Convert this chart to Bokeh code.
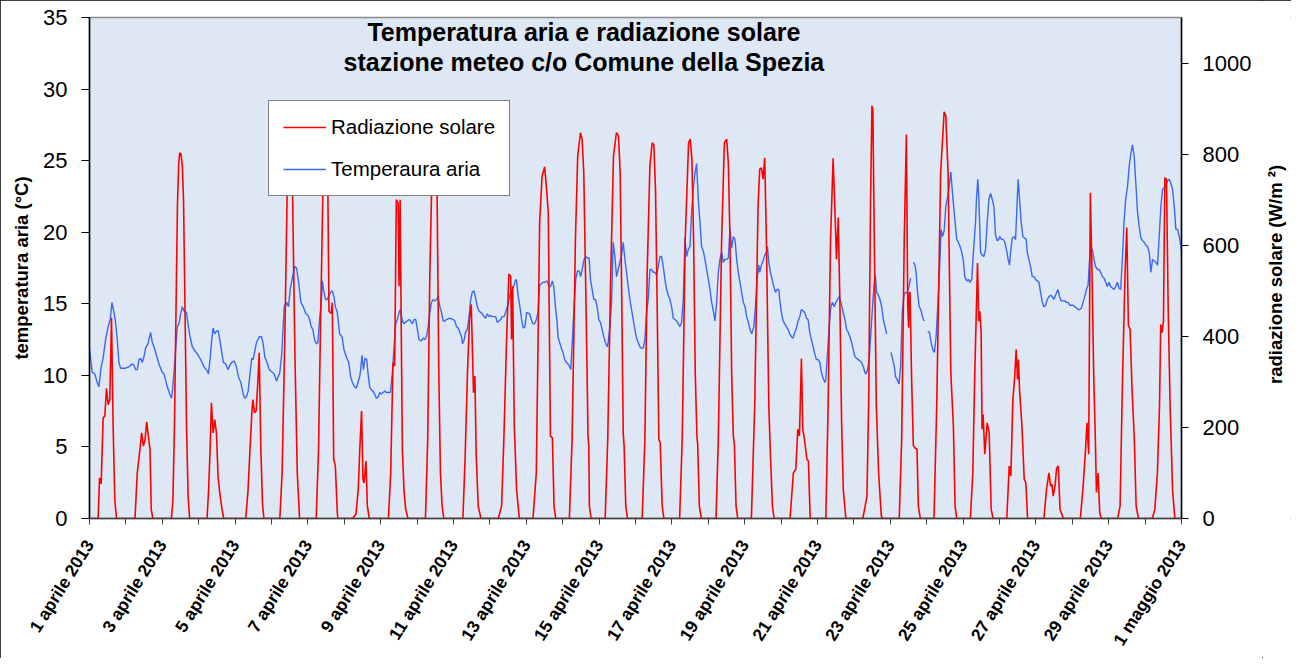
import math
from bokeh.plotting import figure
from bokeh.layouts import row
from bokeh.models import Range1d, LinearAxis, FixedTicker, Legend, LegendItem, Label
from bokeh.embed import file_html
from bokeh.resources import INLINE

NaN = float("nan")

# ---- data: hours since 1 April 2013 00:00 ----
temp_hours = [
    0.0, 1.8, 3.5, 5.1, 6.2, 7.7, 9.0, 10.6, 12.3, 13.7, 14.8, 16.1, 17.2, 18.3, 19.4, 20.5, 21.6, 23.8,
    26.0, 28.2, 29.3, 30.4, 31.5, 32.6, 33.7, 34.8, 35.9, 37.0, 38.5, 40.3, 41.4, 42.5, 43.6, 45.8,
    48.0, 49.1, 51.3, 52.9, 54.0, 54.6, 55.7, 56.8, 57.9, 59.0, 60.1, 61.2, 62.3, 63.9, 65.2, 66.3,
    67.8, 69.6, 71.1, 72.2, 73.3, 75.5, 77.7, 78.4, 79.5, 80.6, 81.5, 82.6, 83.7, 84.8, 85.9, 87.2,
    88.3, 89.8, 91.4, 92.5, 93.8, 95.4, 96.9, 98.2, 99.8, 101.3, 102.4, 103.5, 104.6, 105.9, 107.0,
    107.9, 109.0, 110.1, 111.9, 113.4, 114.5, 115.6, 117.4, 118.5, 119.6, 121.8, 123.3, 124.4, 125.5,
    126.8, 128.4, 129.9, 131.2, 132.3, 133.9, 135.4, 136.5, 137.9, 139.4, 140.9, 142.7, 144.0, 145.1,
    146.2, 147.3, 148.4, 149.5, 150.6, 151.7, 152.8, 153.5, 154.4, 155.7, 156.8, 157.9, 159.0, 160.1,
    161.2, 162.1, 163.4, 164.9, 166.5, 167.8, 169.3, 170.9, 172.2, 173.3, 174.8, 175.9, 177.0, 178.1,
    178.8, 179.7, 180.6, 181.7, 182.8, 183.6, 184.7, 185.8, 186.9, 188.0, 189.1, 190.3, 191.4, 192.4,
    193.6, 194.7, 195.8, 196.9, 198.4, 199.7, 200.8, 201.9, 203.0, 204.1, 205.0, 206.1, 207.2, 208.3,
    209.4, 210.7, 211.6, 212.9, 214.0, 215.1, 216.2, 217.3, 218.9, 220.0, 221.1, 222.2, 223.3, 224.4,
    225.5, 226.6, 227.7, 228.8, 229.9, 231.0, 232.1, 233.2, 234.3, 235.4, 237.6, 239.8, 240.9, 242.0,
    243.1, 244.2, 245.3, 246.0, 247.1, 247.9, 249.0, 250.1, 251.2, 252.3, 253.5, 254.6, 255.7, 256.8,
    257.9, 259.0, 260.1, 261.2, 262.3, 263.4, 264.5, 265.6, 266.7, 267.8, 268.9, 270.0, 271.1, 272.2,
    273.3, 274.4, 275.5, 276.6, 277.7, 278.8, 279.9, 281.0, 281.6, 282.7, 283.8, 284.9, 286.0, 287.1,
    288.2, 290.2, 291.3, 292.4, 293.5, 294.6, 295.7, 296.8, 297.9, 299.0, 300.1, 301.7, 303.0, 303.9,
    305.2, 306.1, 307.2, 308.3, 308.9, 310.0, 311.1, 312.2, 313.3, 314.4, 315.5, 316.6, 317.3, 318.4,
    319.5, 320.6, 321.7, 322.8, 323.9, 325.0, 326.1, 327.2, 328.3, 329.4, 330.3, 331.4, 332.5, 333.6,
    334.7, 335.8, 336.9, 338.0, 339.1, 340.2, 341.3, 342.0, 343.1, 344.2, 345.3, 346.4, 347.5, 348.6,
    349.7, 350.8, 351.9, 353.0, 354.1, 355.2, 356.3, 357.4, 358.5, 359.6, 360.7, 361.8, 362.9, 364.0,
    365.1, 366.2, 367.3, 368.4, 369.5, 370.6, 371.7, 372.8, 373.9, 375.0, 376.1, 377.2, 378.3, 379.4,
    380.5, 381.6, 382.7, 383.8, 384.9, 386.0, 387.1, 388.2, 389.3, 390.4, 391.5, 392.6, 393.7, 394.8,
    395.9, 397.0, 398.1, 399.2, 400.3, 401.4, 402.5, 403.6, 404.7, 405.8, 406.9, 408.0, 409.1, 410.2,
    411.3, 412.4, 413.5, 414.6, 415.7, 416.8, 417.9, 419.0, 420.1, 421.2, 422.3, 423.4, 424.5, 425.6,
    426.7, 427.8, 428.9, 430.0, 431.1, 432.2, 433.3, 434.4, 435.5, 436.6, 438.0, 439.1, 440.2, 441.3,
    441.9, 443.0, 444.1, 445.2, 446.3, 447.0, 447.9, 449.0, 450.1, 451.2, 452.3, 453.4, 454.5, 455.1,
    456.2, 457.3, 458.4, 459.5, 460.6, 461.7, 462.8, 463.9, 465.0, 466.1, 467.2, 468.3, 469.4, 470.5,
    471.6, 472.7, 473.8, 474.9, 476.0, 477.1, 478.2, 479.3, 480.4, 481.5, 482.6, 483.7, 484.9, 485.5,
    486.6, 487.7, 488.8, 489.9, 491.0, 492.1, 493.2, 494.3, 495.4, 496.5, 498.1, 499.2, 500.3, 501.4,
    502.5, 503.6, 504.7, 505.8, 506.9, 508.0, 509.1, 510.2, 511.3, 511.9, 513.0, 514.1, 515.2, 516.3,
    517.2, 518.1, 519.0, 520.1, 521.2, 522.3, 523.4, 524.5, 525.6, 527.0, 528.5, 529.6, 530.7, 531.5,
    532.6, 533.7, 534.8, 535.9, 537.0, 538.1, 539.2, 540.3, 541.4, 542.3, 543.2, 544.3, 545.0, 545.8,
    547.0, 548.1, 549.2, 550.3, 551.5, 552.7, 553.8, 554.9, 556.0, 557.1, 558.2, 559.3, 560.4, 561.5,
    562.4, 563.5, 564.6, 565.7, 566.8, 567.9, 568.5, 569.6, 570.7, 571.8, 572.9, 574.0, 575.1, 576.2,
    577.1, 578.4, 579.5, 580.6, 581.7, 582.8, 584.2, 584.8, 585.7, 586.4, 587.5, 588.6, 589.7, 590.8,
    591.9, 593.0, 594.1, 595.2, 596.3, 597.4, 598.5, 599.6, 600.2, 601.3, 602.4, 603.5, 604.6, 605.7,
    606.6, 607.3, 608.4, 609.5, 610.6, 611.7, 612.3, 613.2, 614.3, 615.4, 616.5, 617.6, 618.3, 619.4,
    620.5, 621.6, 622.7, 623.8, 624.9, 626.0, 627.1, 628.2, 629.3, 630.4, 631.5, 632.6, 633.7, 634.8,
    635.9, 637.0, 638.5, 639.6, 640.7, 641.8, 642.9, 644.1, 645.2, 646.3, 647.4, 648.5, 649.6, 650.7,
    651.8, 652.9, 654.0, 655.1, 656.2, 657.3, 658.4, 659.5, 660.1, 661.2, 662.3, 663.4, 664.5, 665.6,
    666.7, 667.8, 668.9, 670.0, 671.1, 672.2, 673.3, 674.4, 675.5, 676.6, 677.7, 678.8, 679.9, 681.0,
    682.1, 683.2, 684.4, 685.5, 686.6, 687.7, 688.8, 689.9, 691.0, 692.1, 693.2, 694.3, 695.4, 696.5,
    697.6, 698.7, 699.8, 700.9, 702.0, 703.1, 704.2, 705.3, 706.4, 707.5, 708.6, 709.7, 710.8, 711.9,
    713.0, 714.1, 715.2, 716.3, 717.4, 718.5, 719.6, 720.0,
]
temp_c = [
    11.9, 10.2, 10.1, 9.5, 9.2, 10.6, 11.2, 12.5, 13.4, 13.9, 15.1, 14.4, 13.7, 12.5, 10.9, 10.5, 10.5, 10.5,
    10.6, 10.8, 10.7, 10.4, 10.4, 11.1, 11.2, 10.9, 11.3, 11.9, 12.2, 13.0, 12.3, 12.0, 11.6, 10.8,
    10.2, 10.1, 9.2, 8.7, 8.4, 8.8, 10.2, 11.8, 13.4, 13.6, 14.3, 14.8, 14.5, 14.4, 13.4, 12.7,
    12.0, 11.7, 11.5, 11.3, 11.1, 10.6, 10.3, 10.1, 11.1, 12.5, 13.3, 12.9, 13.1, 13.1, 12.5, 11.6,
    10.9, 10.8, 10.4, 10.7, 10.9, 11.0, 10.6, 9.9, 9.5, 8.7, 8.4, 8.5, 8.9, 10.2, 11.2,
    11.1, 11.7, 12.3, 12.7, 12.7, 12.2, 11.3, 10.8, 10.4, 10.3, 10.1, 9.6, 9.9, 10.2,
    11.6, 14.8, 15.1, 14.8, 16.0, 16.9, 17.6, 17.5, 16.5, 15.1, 14.8, 14.3, 14.2, 13.9,
    13.4, 13.2, 12.5, 12.2, 12.3, 13.9, 15.1, 16.6, 15.9, 15.3, 15.3, 15.6, 15.8, 15.9,
    15.5, 14.8, 14.4, 12.9, 12.7, 11.8, 11.3, 10.9, 9.9, 9.5, 9.2, 9.1, 9.5, 9.9,
    10.4, 11.4, 10.4, 11.2, 11.1, 10.2, 9.2, 9.0, 8.9, 8.7, 8.4, 8.5, 8.8, 8.7,
    8.8, 8.9, 8.8, 8.8, 8.8, 10.2, 12.0, 13.6, 13.9, 14.4, 14.6, 13.9, 13.6, 13.7,
    13.8, 13.9, 13.8, 13.6, 13.9, 13.9, 13.2, 12.5, 12.4, 12.6, 12.5, 12.7, 13.4, 14.4,
    15.1, 15.3, 15.2, 15.3, 15.5, 14.8, 14.4, 13.8, 13.8, 13.9, 14.0, 13.9, 13.8, 13.4,
    13.3, 13.0, 12.7, 12.2, 12.5, 13.0, 13.2, 13.9, 15.2, 15.8, 15.9, 15.4, 14.8, 14.5,
    14.4, 14.3, 14.1, 14.0, 14.3, 14.1, 14.2, 14.1, 14.1, 14.1, 13.7, 13.8, 13.9, 14.1,
    14.1, 14.4, 14.8, 15.3, 15.8, 16.0, 16.3, 16.7, 16.6, 15.5, 14.8, 13.9, 13.3, 13.4,
    14.4, 14.3, 13.9, 13.6, 13.6, 13.9, 14.4, 16.3, 16.4, 16.5, 16.5, 16.6, 16.2, 16.2,
    16.6, 16.2, 14.8, 13.7, 12.7, 12.3, 11.9, 11.6, 11.1, 10.9, 10.8, 10.6, 10.4, 12.5,
    14.8, 16.7, 17.3, 17.3, 16.9, 17.5, 18.1, 18.3, 18.2, 18.2, 16.7, 16.0, 15.3, 15.3,
    14.8, 13.9, 13.7, 13.2, 12.7, 12.3, 12.0, 12.3, 13.4, 15.1, 19.3, 18.3, 16.9, 17.4,
    17.9, 18.4, 19.3, 18.1, 17.2, 16.2, 15.3, 14.6, 13.9, 13.2, 12.6, 12.3, 12.0, 11.9,
    11.9, 12.5, 14.4, 15.3, 17.4, 17.4, 17.2, 17.2, 17.0, 17.6, 18.3, 18.3, 17.6, 16.7,
    16.0, 15.6, 15.3, 14.8, 14.0, 13.9, 13.8, 13.6, 13.4, 13.7, 15.3, 19.6, 18.3, 18.8,
    19.0, 21.4, 23.0, 24.1, 24.8, 22.3, 20.7, 19.0, 18.7, 18.1, 17.4, 16.7, 16.0, 15.1,
    14.5, 13.8, 15.1, 17.2, 18.1, 18.6, 17.9, 18.1, 18.1, 18.2, 20.3, 18.9, 19.7, 19.5,
    18.1, 17.2, 16.5, 15.8, 15.1, 14.8, 14.1, 13.7, 13.2, 12.9, 13.4, 14.8, 16.7, 17.7,
    17.2, 17.7, 18.0, 18.4, 18.6, 19.0, 17.9, 17.2, 16.7, 16.2, 15.8, 16.0, 16.0, 15.3,
    14.4, 13.8, 13.6, 13.4, 13.2, 12.9, 12.7, 12.6, 13.0, 13.3, 13.8, 14.1, 14.6, 14.5,
    14.4, 14.0, 13.9, 13.0, 12.5, 12.0, 11.5, 11.1, 11.1, 10.9, 10.2, 9.8, 9.5, 9.7,
    11.6, 13.4, 14.8, 15.1, 14.8, 15.1, 15.3, 15.5, 15.1, 14.6, 13.9, 13.2, 13.0, 12.7,
    12.3, 11.8, 11.3, 11.2, 11.1, 11.0, 10.9, 10.6, 10.2, 10.1, 10.4, 11.1, 13.0, 14.8,
    16.2, 17.0, 15.8, 15.6, 15.3, 14.8, 13.9, 13.4, 12.9, NaN, 11.6, 11.1, 10.6, 9.9,
    9.7, 9.4, 10.6, 14.4, 15.6, 15.8, 15.8, 16.2, 16.8, NaN, 17.9, 17.7, 17.2, 16.0,
    14.8, 14.6, 14.1, 13.8, NaN, 13.1, 13.0, 12.3, 11.8, 11.6, 12.7, 14.8, 17.2, 20.2,
    19.7, 20.1, 21.8, 22.4, 23.2, 24.2, 23.4, 22.0, 20.7, 19.5, 19.3, 19.0, 18.6, 18.0,
    16.9, 16.6, 16.7, 16.5, 16.7, 18.6, 20.7, 22.3, 23.7, 22.3, 18.6, 18.4, 18.3, 18.8,
    20.7, 22.3, 22.7, 22.3, 21.8, 19.8, 19.4, 19.5, 19.7, 19.5, 19.5, 19.3, 18.8, 18.1,
    17.7, 18.6, 19.6, 19.7, 19.5, 22.3, 23.7, 22.3, 20.7, 19.7, 19.6, 19.5, 18.6, 18.1,
    17.6, 16.9, 16.9, 16.7, 16.6, 16.5, 15.8, 15.1, 14.8, 14.9, 15.3, 15.5, 15.6, 15.5,
    15.3, 15.6, 16.0, 15.5, 15.2, 15.2, 15.2, 15.1, 15.1, 14.9, 14.9, 14.9, 14.8, 14.7,
    14.6, 14.6, 14.7, 15.1, 15.5, 16.0, 16.3, 18.3, 18.8, 18.8, 18.1, 17.6, 17.4, 17.4,
    17.2, 16.9, 16.8, 16.5, 16.2, 16.5, 16.2, 16.1, 16.0, 16.2, 16.5, 16.1, 16.0, 18.1,
    20.7, 22.3, 23.2, 24.6, 25.5, 26.1, 25.3, 23.4, 21.4, 20.4, 19.6, 19.4, 19.3, 19.1,
    19.0, 18.6, 17.2, 18.1, 18.0, 17.9, 17.7, 19.7, 21.8, 23.0, 23.1, 23.3, 23.6, 23.7,
    23.4, 23.0, 21.8, 20.2, 20.2, 19.7, 19.0, 18.7,
]

rad_hours = [
    0.0,
    5.7, 6.6, 7.7, 9.0, 10.1, 11.2, 12.3, 13.4, 14.5, 15.6, 16.7, 17.8,
    30.0, 31.5, 33.0, 34.4, 35.5, 36.6, 37.7, 38.8, 39.9, 40.7, 41.8,
    54.0, 55.0, 56.0, 57.0, 58.0, 58.8, 59.5, 60.3, 61.2, 62.0, 63.0, 64.0, 65.0, 66.0,
    77.5, 78.5, 79.5, 80.4, 81.5, 82.6, 83.7, 84.8, 86.1, 87.4, 88.5,
    103.0, 104.5, 105.8, 107.0, 107.7, 108.8, 109.9, 111.0, 111.9, 113.0, 114.1, 115.0,
    125.5, 127.0, 128.8, 130.3, 131.5, 132.6, 133.9, 135.5, 137.0, 138.5,
    149.5, 151.0, 152.1, 153.9, 155.0, 156.0, 157.2, 157.9, 159.4, 160.1, 161.0, 162.1, 163.4, 163.8,
    173.5, 175.7, 177.2, 178.3, 179.4, 180.3, 181.0, 182.3, 183.2, 184.5,
    197.1, 198.6, 200.1, 201.2, 202.3, 203.5, 204.1, 204.8, 205.6, 206.3, 207.4, 208.5, 210.0,
    221.5, 223.0, 224.4, 225.5, 226.8, 228.0, 229.2, 230.3, 231.4, 232.5, 233.6,
    246.2, 247.7, 249.2, 250.6, 251.7, 253.2, 254.1, 255.0, 256.3, 258.1,
    269.5, 271.7, 273.2, 275.0, 276.5, 277.7, 278.3, 279.0, 280.1, 281.6, 283.4,
    292.4, 294.6, 296.8, 298.4, 300.1, 301.2, 302.5, 303.9, 305.2, 306.3, 307.4,
    316.4, 318.2, 320.4, 321.9, 323.7, 324.8, 325.9, 327.4, 328.7, 329.2, 329.6, 330.7,
    340.0, 341.7, 343.7, 345.5, 347.4, 348.8, 349.9, 351.0, 351.9, 352.5, 353.6, 354.7,
    364.4, 366.2, 367.7, 369.5, 371.0, 372.1, 373.2, 374.3, 375.4, 376.3, 377.6, 378.7,
    389.1, 390.8, 392.8, 395.0, 396.1, 397.2, 398.3, 399.4, 400.5, 401.0, 402.1, 403.4,
    413.1, 414.6, 416.8, 418.6, 420.1, 421.2, 422.3, 423.4, 424.5, 425.2, 426.3, 427.4,
    436.4, 438.6, 440.8, 441.9, 443.0, 444.1, 445.2, 446.3, 447.9, 449.0, 450.3, 451.4,
    461.9, 464.1, 465.7, 467.0, 468.1, 469.4, 470.3, 471.4, 473.0, 474.0, 475.2,
    485.5, 487.0, 488.6, 490.3, 491.4, 492.5, 493.7, 494.8, 495.9, 497.0, 498.7,
    509.9, 512.6, 513.7, 515.0, 515.9, 516.5, 517.7, 518.8, 520.3, 522.1, 523.2,
    533.9, 535.5, 537.2, 538.6, 539.5, 540.1, 540.6, 541.0, 542.1, 543.2, 544.3, 545.6, 546.5, 547.8,
    556.8, 558.6, 561.2, 563.5, 564.6, 566.1, 567.9, 569.6, 570.7, 571.8,
    580.8, 582.4, 583.7, 584.8, 585.5, 586.3, 587.0, 587.9, 588.5, 589.2, 590.3, 591.9, 593.2, 594.5, 595.8,
    604.8, 606.4, 607.5, 608.8, 609.9, 611.0, 611.9, 612.5, 613.2, 614.8, 616.3, 617.4, 618.5,
    629.3, 631.0, 632.6, 633.7, 634.6, 635.4, 636.6, 637.7, 638.8, 639.9, 642.1,
    653.3, 655.0, 656.6, 657.7, 658.8, 659.9, 661.0, 662.1, 663.2, 663.9, 665.0, 666.1, 667.2,
    677.9, 679.5, 681.2, 682.8, 683.9, 685.0, 686.1, 687.4, 688.9, 690.1, 691.6,
    700.8, 702.4, 704.1, 705.5, 706.3, 707.2, 708.1, 709.0, 710.1, 711.2, 712.5, 714.1, 715.6,
    720.0,
]
rad_wm2 = [
    0,
    0, 89, 76, 221, 225, 286, 250, 261, 441, 200, 40, 0,
    0, 100, 144, 188, 159, 173, 212, 181, 152, 20, 0,
    0, 40, 200, 450, 690, 780, 803, 800, 775, 700, 450, 200, 50, 0,
    0, 60, 150, 254, 188, 217, 188, 90, 50, 20, 0,
    0, 60, 150, 230, 261, 232, 236, 300, 364, 150, 30, 0,
    0, 100, 400, 710, 800, 790, 710, 350, 100, 0,
    0, 150, 379, 720, 800, 790, 707, 455, 450, 474, 130, 115, 12, 0,
    0, 10, 64, 159, 236, 86, 78, 126, 27, 0,
    0, 100, 342, 335, 700, 693, 510, 700, 400, 150, 60, 20, 0,
    0, 174, 540, 710, 790, 800, 710, 320, 100, 27, 0,
    0, 137, 320, 440, 470, 276, 313, 137, 27, 0,
    0, 27, 174, 393, 537, 532, 393, 510, 203, 64, 0,
    0, 100, 650, 752, 772, 730, 671, 181, 177, 27, 0,
    0, 174, 613, 796, 847, 833, 759, 466, 181, 159, 27, 0,
    0, 174, 540, 796, 847, 840, 759, 466, 188, 159, 27, 0,
    0, 174, 540, 774, 825, 820, 723, 466, 174, 166, 27, 0,
    0, 174, 613, 825, 833, 789, 613, 320, 181, 163, 27, 0,
    0, 174, 613, 825, 833, 782, 613, 320, 181, 163, 27, 0,
    0, 247, 686, 767, 770, 745, 792, 613, 247, 137, 27, 0,
    0, 100, 108, 196, 181, 351, 196, 174, 130, 126, 0,
    0, 247, 613, 791, 686, 569, 661, 466, 210, 64, 0,
    0, 49, 247, 700, 906, 899, 540, 247, 100, 5, 0,
    0, 174, 613, 843, 466, 419, 496, 496, 300, 160, 155, 152, 27, 0,
    0, 247, 759, 893, 884, 759, 320, 203, 27, 0,
    0, 100, 320, 466, 561, 433, 455, 408, 196, 228, 141, 210, 188, 20, 0,
    0, 115, 93, 261, 305, 371, 305, 349, 283, 203, 86, 78, 0,
    0, 64, 100, 71, 75, 49, 71, 111, 115, 20, 0,
    0, 64, 144, 210, 141, 715, 540, 320, 174, 57, 100, 12, 0,
    0, 27, 320, 540, 639, 423, 416, 283, 174, 27, 0,
    0, 20, 100, 247, 426, 408, 433, 748, 745, 466, 247, 64, 0,
    0,
]

day_ticks = list(range(0, 721, 24))
day_tick_labels = [
    "1 aprile 2013", "", "3 aprile 2013", "", "5 aprile 2013", "", "7 aprile 2013", "",
    "9 aprile 2013", "", "11 aprile 2013", "", "13 aprile 2013", "", "15 aprile 2013", "",
    "17 aprile 2013", "", "19 aprile 2013", "", "21 aprile 2013", "", "23 aprile 2013", "",
    "25 aprile 2013", "", "27 aprile 2013", "", "29 aprile 2013", "", "1 maggio 2013",
]
temp_ticks = [0, 5, 10, 15, 20, 25, 30, 35]
rad_ticks = [0, 200, 400, 600, 800, 1000]

FONT = "Liberation Sans"
H = 658
TOP, BOTTOM = 17, 140

p = figure(
    width=1262, height=H,
    x_range=Range1d(0, 720), y_range=Range1d(0, 35),
    output_backend="svg", toolbar_location=None,
    min_border_left=89, min_border_right=81, min_border_top=TOP, min_border_bottom=BOTTOM,
)
p.extra_y_ranges = {"rad": Range1d(0, 1100)}
p.background_fill_color = "#dde8f4"
p.border_fill_color = "white"
p.outline_line_color = "#8a8a8a"
p.outline_line_width = 1.5
p.xgrid.visible = False
p.ygrid.visible = False

# x axis
xa = p.xaxis[0]
xa.ticker = FixedTicker(ticks=day_ticks)
xa.major_label_overrides = {t: lab for t, lab in zip(day_ticks, day_tick_labels)}
xa.major_label_orientation = math.radians(58)
xa.major_label_text_font = FONT
xa.major_label_text_font_style = "bold"
xa.major_label_text_font_size = "17.5px"
xa.major_label_text_color = "black"
xa.major_label_standoff = 17
xa.major_tick_out = 6
xa.major_tick_in = 0
xa.minor_tick_out = 0
xa.minor_tick_in = 0
xa.axis_line_color = "#404040"
xa.axis_line_width = 1.5
xa.major_tick_line_color = "#404040"

# left axis
ya = p.yaxis[0]
ya.ticker = FixedTicker(ticks=temp_ticks)
ya.axis_label = "temperatura aria (°C)"
ya.axis_label_text_font = FONT
ya.axis_label_text_font_style = "bold"
ya.axis_label_text_font_size = "18.5px"
ya.axis_label_text_color = "black"
ya.axis_label_standoff = 8
ya.major_label_text_font = FONT
ya.major_label_text_font_size = "22px"
ya.major_label_text_color = "black"
ya.major_label_standoff = 14
ya.major_tick_out = 8
ya.major_tick_in = 0
ya.minor_tick_out = 0
ya.minor_tick_in = 0
ya.axis_line_color = "black"
ya.axis_line_width = 1.5
ya.major_tick_line_color = "black"

# right axis (its title is drawn in a narrow strip so it can read bottom-to-top)
ra = LinearAxis(y_range_name="rad", ticker=FixedTicker(ticks=rad_ticks))
ra.major_label_text_font = FONT
ra.major_label_text_font_size = "22px"
ra.major_label_text_color = "black"
ra.major_label_standoff = 14
ra.major_tick_out = 7
ra.major_tick_in = 0
ra.minor_tick_out = 0
ra.minor_tick_in = 0
ra.axis_line_color = "black"
ra.axis_line_width = 1.5
ra.major_tick_line_color = "black"
p.add_layout(ra, "right")

r_temp = p.line(temp_hours, temp_c, line_color="#3a68f2", line_width=1.4)
r_rad = p.line(rad_hours, rad_wm2, y_range_name="rad", line_color="#ff0000", line_width=1.6)

legend = Legend(
    items=[LegendItem(label="Radiazione solare", renderers=[r_rad]),
           LegendItem(label="Temperaura aria", renderers=[r_temp])],
    location=(179, 322),
    margin=0, padding=14, spacing=18,
    glyph_width=43, glyph_height=20, label_height=20, label_standoff=5,
    label_text_font=FONT, label_text_font_size="20.5px", label_text_color="black",
    background_fill_color="white", background_fill_alpha=1.0,
    border_line_color="black", border_line_width=1.2,
)
p.add_layout(legend)

for txt, yv in (("Temperatura aria e radiazione solare", 33.96),
                ("stazione meteo c/o Comune della Spezia", 31.87)):
    p.add_layout(Label(x=326, y=yv, text=txt, text_align="center", text_baseline="middle",
                       text_font=FONT, text_font_style="bold", text_font_size="25px",
                       text_color="black"))

# narrow strip holding the right-hand axis title
strip = figure(
    width=29, height=H,
    x_range=Range1d(0, 1), y_range=Range1d(0, 35),
    x_axis_type=None, y_axis_type=None,
    output_backend="svg", toolbar_location=None,
    min_border_left=0, min_border_right=0, min_border_top=TOP, min_border_bottom=BOTTOM,
)
strip.outline_line_color = None
strip.background_fill_color = "white"
strip.border_fill_color = "white"
strip.xgrid.visible = False
strip.ygrid.visible = False
strip.add_layout(Label(x=0.45, y=17.05, text="radiazione solare (W/m ²)", angle=math.pi / 2,
                       text_align="center", text_baseline="middle",
                       text_font=FONT, text_font_style="bold", text_font_size="18.5px",
                       text_color="black"))

layout = row(p, strip)
layout.styles = {"outline": "1.5px solid black", "outline-offset": "-1px"}

open("out.html", "w").write(file_html(layout, INLINE))
